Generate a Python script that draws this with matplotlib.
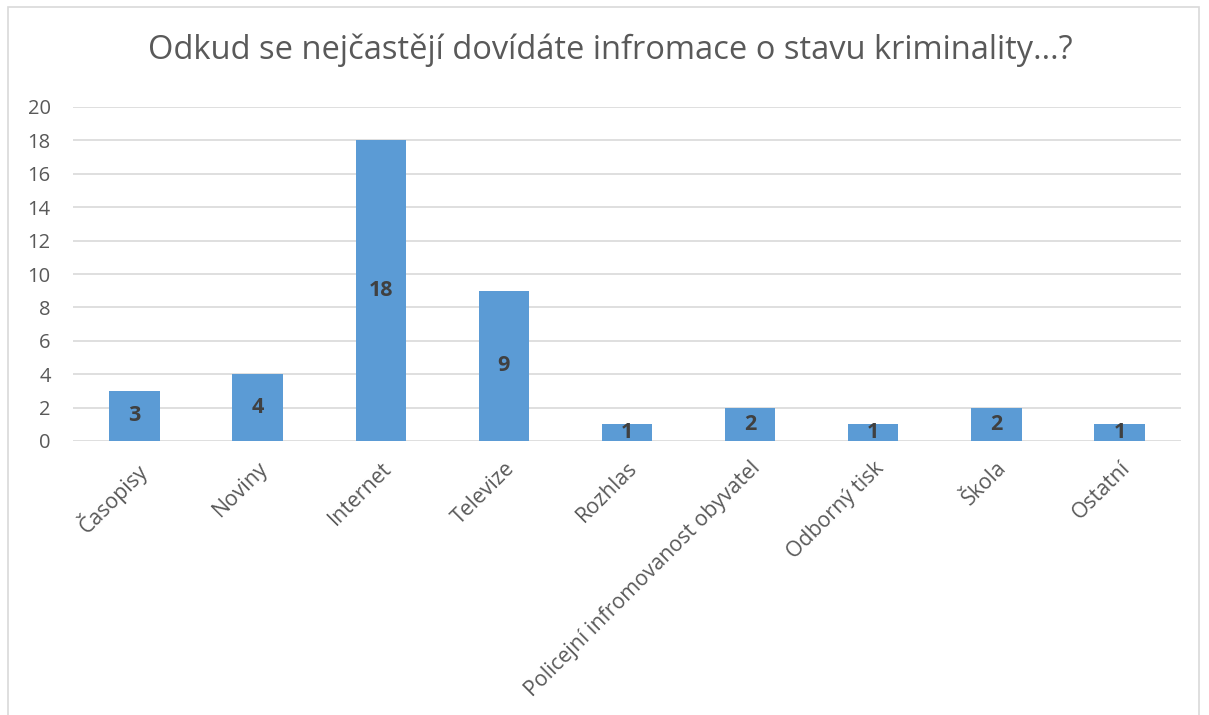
import matplotlib
matplotlib.use("Agg")
import matplotlib.pyplot as plt
from matplotlib.patches import Rectangle

categories = ["Časopisy", "Noviny", "Internet", "Televize", "Rozhlas",
              "Policejní infromovanost obyvatel", "Odborný tisk", "Škola", "Ostatní"]
values = [3, 4, 18, 9, 1, 2, 1, 2, 1]
yticks = [0, 2, 4, 6, 8, 10, 12, 14, 16, 18, 20]
title = "Odkud se nejčastějí dovídáte infromace o stavu kriminality...?"

plt.rcParams["font.family"] = ["Open Sans", "DejaVu Sans"]
text_color = "#595959"

fig = plt.figure(figsize=(12.09, 7.15), dpi=100)
fig.patches.append(Rectangle((8 / 1209, -0.01), 1191 / 1209, 1 - 7 / 715 + 0.01,
                             transform=fig.transFigure, fill=False,
                             edgecolor="#d9d9d9", linewidth=1.2))

ax = fig.add_axes([73 / 1209, 1 - 441 / 715, 1108 / 1209, 334 / 715])
x = range(len(categories))
bars = ax.bar(x, values, width=0.41, color="#5b9bd5", zorder=3)
for b, v in zip(bars, values):
    ax.text(b.get_x() + b.get_width() / 2, v / 2, str(v), ha="center", va="center",
            fontsize=15.5, fontweight="bold", color="#404040", zorder=4)

ax.set_xlim(-0.5, len(categories) - 0.5)
ax.set_ylim(0, 20)
ax.set_yticks(yticks)
ax.grid(axis="y", color="#d9d9d9", linewidth=1.2, zorder=0)
for s in ax.spines.values():
    s.set_visible(False)
ax.tick_params(axis="y", length=0, colors=text_color, labelsize=14.5, pad=16)
ax.set_xticks(list(x))
ax.set_xticklabels(categories, rotation=45, ha="right", rotation_mode="anchor")
ax.tick_params(axis="x", length=0, colors=text_color, labelsize=15.3, pad=12)

fig.text(610 / 1209, 1 - 50 / 715, title, ha="center", va="center",
         fontsize=23.5, color=text_color)

fig.savefig("out.png", dpi=100)
